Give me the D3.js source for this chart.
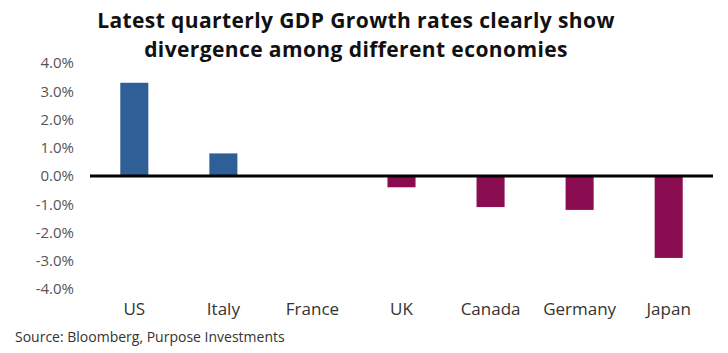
<!DOCTYPE html>
<html>
<head>
<meta charset="utf-8">
<script src="https://cdn.jsdelivr.net/npm/d3@7"></script>
<style>
  body { margin: 0; background: #fff; }
  svg { display: block; font-family: "Open Sans", sans-serif; }
</style>
</head>
<body>
<div id="chart"></div>
<script>
// Data
const countries = ["US", "Italy", "France", "UK", "Canada", "Germany", "Japan"];
const growth = [3.3, 0.8, 0.0, -0.4, -1.1, -1.2, -2.9];
const yTicks = [4, 3, 2, 1, 0, -1, -2, -3, -4];

const width = 728, height = 353;

const svg = d3.select("#chart")
    .append("svg")
    .attr("width", width)
    .attr("height", height);

// Title
const title = svg.append("text")
    .attr("text-anchor", "middle")
    .style("font-size", "21px")
    .style("letter-spacing", "0.4px")
    .style("font-weight", "bold")
    .style("fill", "#111");
title.append("tspan").attr("x", 356).attr("y", 28).text("Latest quarterly GDP Growth rates clearly show");
title.append("tspan").attr("x", 356).attr("y", 57).text("divergence among different economies");

// Scales
const x = d3.scaleBand()
    .domain(countries)
    .range([90, 713])
    .paddingInner(0.685)
    .paddingOuter(0.34);

const y = d3.scaleLinear()
    .domain([-4, 4])
    .range([289, 63]);

// Y axis (labels only)
const yAxis = svg.append("g")
    .attr("transform", "translate(74,0)")
    .call(d3.axisLeft(y)
        .tickValues(yTicks)
        .tickSize(0)
        .tickPadding(0)
        .tickFormat(d => d.toFixed(1) + "%"));
yAxis.select(".domain").remove();
yAxis.selectAll("text")
    .style("font-size", "15px")
    .style("fill", "#555")
    .style("font-family", "'Open Sans', sans-serif");

// Bars
svg.selectAll(".bar")
    .data(countries.map((c, i) => ({ country: c, value: growth[i] })))
    .enter()
    .append("rect")
    .attr("class", "bar")
    .attr("x", d => x(d.country))
    .attr("y", d => y(Math.max(0, d.value)))
    .attr("width", x.bandwidth())
    .attr("height", d => Math.abs(y(d.value) - y(0)))
    .attr("fill", d => d.value >= 0 ? "#2f5f97" : "#8a0d52");

// Zero line
svg.append("line")
    .attr("x1", 90)
    .attr("x2", 713)
    .attr("y1", y(0))
    .attr("y2", y(0))
    .attr("stroke", "#000")
    .attr("stroke-width", 3);

// Category labels
const xAxis = svg.append("g")
    .attr("transform", "translate(0,303)")
    .call(d3.axisBottom(x).tickSize(0).tickPadding(0));
xAxis.select(".domain").remove();
xAxis.selectAll("text")
    .style("font-size", "17px")
    .style("fill", "#333")
    .style("font-family", "'Open Sans', sans-serif");

// Source
svg.append("text")
    .attr("x", 15)
    .attr("y", 342)
    .style("font-size", "14px")
    .style("fill", "#333")
    .text("Source: Bloomberg, Purpose Investments");
</script>
</body>
</html>
